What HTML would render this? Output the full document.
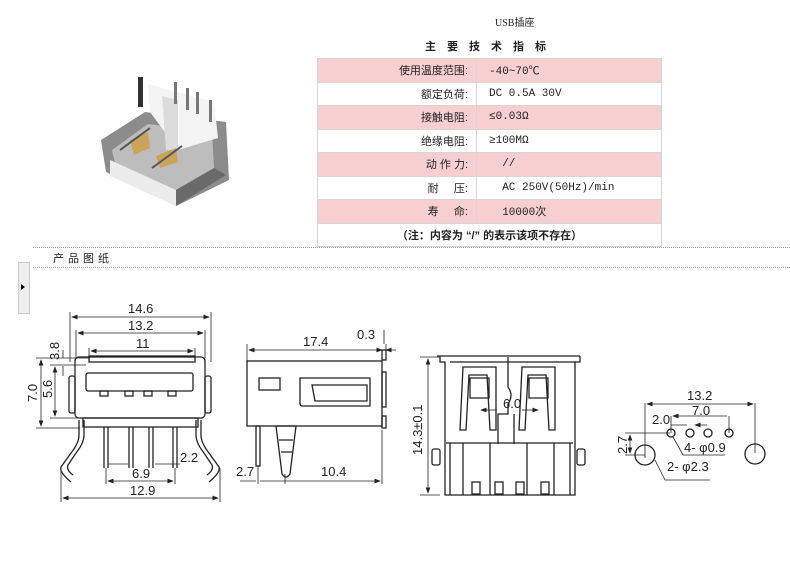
<!DOCTYPE html>
<html><head><meta charset="utf-8"><style>
body{margin:0;width:790px;height:570px;background:#fff;overflow:hidden;position:relative;font-family:"Liberation Sans","Noto Sans CJK SC",sans-serif}
.t{position:absolute;font-size:11px;color:#222}
table{position:absolute;left:317px;top:58px;width:345px;border-collapse:collapse;font-size:11px;font-family:"Liberation Mono","Noto Sans CJK SC",monospace;color:#222}
td{height:22.5px;padding:0;border:1px solid #d6d6d6}
tr.p td{background:#f7cfd0}
td.l{text-align:right;width:150px;padding-right:8px;font-family:"Liberation Sans","Noto Sans CJK SC",sans-serif}
td.r{padding-left:12px}
.dot{position:absolute;left:33px;width:757px;border-top:1px dotted #999}
</style></head><body>
<div class="t" style="left:495px;top:14px;font-size:10px;font-family:'Liberation Serif','Noto Sans CJK SC',serif">USB插座</div>
<div class="t" style="left:425px;top:38px;letter-spacing:11px;font-weight:bold">主要技术指标</div>
<table>
<tr class="p"><td class="l">使用温度范围:</td><td class="r">-40~70℃</td></tr>
<tr><td class="l">额定负荷:</td><td class="r">DC 0.5A 30V</td></tr>
<tr class="p"><td class="l">接触电阻:</td><td class="r">≤0.03Ω</td></tr>
<tr><td class="l">绝缘电阻:</td><td class="r">≥100MΩ</td></tr>
<tr class="p"><td class="l">动 作 力:</td><td class="r">&nbsp;&nbsp;//</td></tr>
<tr><td class="l">耐 &nbsp; &nbsp; 压:</td><td class="r">&nbsp;&nbsp;AC 250V(50Hz)/min</td></tr>
<tr class="p"><td class="l">寿 &nbsp; &nbsp; 命:</td><td class="r">&nbsp;&nbsp;10000次</td></tr>
<tr><td colspan="2" style="text-align:center;font-family:'Liberation Sans','Noto Sans CJK SC',sans-serif;font-weight:bold">（注：内容为 “/” 的表示该项不存在）</td></tr>
</table>
<div class="dot" style="top:247px"></div>
<div class="dot" style="top:267px"></div>
<div class="t" style="left:53px;top:250px;letter-spacing:4px">产品图纸</div>
<div style="position:absolute;left:18px;top:262px;width:10px;height:50px;background:#eee;border:1px solid #ccc"></div>
<div style="position:absolute;left:21px;top:284px;border-left:4px solid #000;border-top:3px solid transparent;border-bottom:3px solid transparent"></div>
<svg width="790" height="570" style="position:absolute;left:0;top:0" font-family="Liberation Sans,sans-serif" fill="none" stroke="#222">
<defs><marker id="a" markerWidth="8" markerHeight="6" refX="7" refY="3" orient="auto-start-reverse"><path d="M0,0L8,3L0,6z" fill="#222" stroke="none"/></marker></defs>
<!-- photo -->
<g stroke="none">
<polygon points="101,140 145,112 226,122 229,180 176,206 106,172" fill="#8c8c8c"/>
<polygon points="112,150 148,124 212,132 214,168 176,190 116,168" fill="#bdbdbd"/>
<polygon points="110,160 176,190 176,206 110,176" fill="#ececec"/>
<polygon points="176,190 214,168 226,175 176,206" fill="#6a6a6a"/>
<polygon points="148,84 214,102 218,138 178,150 150,112" fill="#f4f4f4"/>
<polygon points="162,96 178,100 178,150 166,150" fill="#dcdcdc"/>
<rect x="138" y="77" width="5" height="30" fill="#333"/>
<rect x="174" y="82" width="3" height="22" fill="#777"/><rect x="186" y="88" width="3" height="22" fill="#777"/><rect x="196" y="92" width="3" height="22" fill="#777"/><rect x="209" y="100" width="3" height="22" fill="#777"/>
<polygon points="130,140 148,132 150,148 134,155" fill="#caa45a"/>
<polygon points="156,156 176,148 178,162 160,168" fill="#caa45a"/>
<path d="M120,150l30-22M152,168l30-22" stroke="#555" stroke-width="2"/>
</g>
<g stroke-width="1.3">
<!-- front view -->
<rect x="75" y="357" width="130" height="61" rx="4"/>
<rect x="89" y="356" width="106" height="6"/>
<rect x="86" y="373" width="107" height="18" rx="2"/>
<rect x="100" y="391" width="8" height="5"/><rect x="125" y="391" width="8" height="5"/><rect x="144" y="391" width="8" height="5"/><rect x="168" y="391" width="8" height="5"/>
<rect x="69" y="376" width="6" height="37" rx="2"/><rect x="205" y="376" width="6" height="37" rx="2"/>
<rect x="83" y="418" width="115" height="9"/>
<path d="M104,427v41M108,427v41M129,427v41M133,427v41M149,427v41M153,427v41M173,427v41M177,427v41"/>
<path d="M79,420v15q0,8-8,18l-10,14q-2,5 10,15M84,420v15q0,8-8,18l-8,12q-2,5 5,10"/>
<path d="M201,420v15q0,8 8,18l10,14q2,5-10,15M196,420v15q0,8 8,18l8,12q2,5-5,10"/>
</g>
<g stroke-width="0.8">
<path d="M70,312v50M211,312v50M76,330v28M205,330v28M89,348v10M195,348v10" />
<path d="M72,317H209" marker-start="url(#a)" marker-end="url(#a)"/>
<path d="M78,333H203" marker-start="url(#a)" marker-end="url(#a)"/>
<path d="M91,351H193" marker-start="url(#a)" marker-end="url(#a)"/>
<path d="M36,358H90M36,428H80M50,365H86M50,418H80"/>
<path d="M41,360V426" marker-start="url(#a)" marker-end="url(#a)"/>
<path d="M55,367V416" marker-start="url(#a)" marker-end="url(#a)"/>
<path d="M63,350v8M63,366v10"/>
<path d="M106,468v16M175,468v16M220,468v34M61,468v34"/>
<path d="M108,481H173" marker-start="url(#a)" marker-end="url(#a)"/>
<path d="M63,498H218" marker-start="url(#a)" marker-end="url(#a)"/>
<path d="M108,464H128M155,464H180" />
</g>
<g fill="#222" stroke="none" font-size="13">
<text x="128" y="313">14.6</text><text x="128" y="330">13.2</text><text x="136" y="348">11</text>
<text x="132" y="478">6.9</text><text x="130" y="495">12.9</text><text x="180" y="462">2.2</text>
<text transform="translate(37,402) rotate(-90)">7.0</text>
<text transform="translate(52,398) rotate(-90)">5.6</text>
<text transform="translate(59,360) rotate(-90)">3.8</text>
</g>
<!-- side view -->
<g stroke-width="1.3">
<rect x="247" y="361" width="135" height="65"/>
<rect x="259" y="378" width="21" height="12"/>
<path d="M300,378h70v28h-68q-2,0-2-3z M312,385h55v16h-52z"/>
<rect x="382" y="350" width="4" height="10"/><rect x="382" y="372" width="4" height="35"/><rect x="382" y="416" width="4" height="12"/>
<rect x="256" y="426" width="4" height="40"/>
<path d="M276,426l6,48q4,6 8,0l6-48z M279,440h14M281,452h11"/>
</g>
<g stroke-width="0.8">
<path d="M247,344v17M386,344v6M384,330v14"/>
<path d="M249,350H382" marker-start="url(#a)" marker-end="url(#a)"/>
<path d="M376,350h6M396,350h-10" marker-end="url(#a)"/>
<path d="M258,466v18M285,474v10M382,430v54"/>
<path d="M240,481H256M260,481h25M285,481H380" marker-end="url(#a)"/>
</g>
<g fill="#222" stroke="none" font-size="13">
<text x="303" y="346">17.4</text><text x="357" y="339">0.3</text>
<text x="236" y="476">2.7</text><text x="321" y="476">10.4</text>
</g>
<!-- back view -->
<g stroke-width="1.3">
<path d="M437,356h143M440,356v6h5v133h130v-133h5v-6"/>
<path d="M450,362h126"/>
<path d="M463,367h33v63h-6l-3-55h-18l-3,55h-6z M470,378h19v20h-19z"/>
<path d="M522,367h33v63h-6l-3-55h-18l-3,55h-6z M529,378h19v20h-19z"/>
<path d="M508,357v30q6,8 0,17v10h-10v30M514,414v30"/>
<path d="M446,443h127M450,443v52M570,443v52M463,443v52M490,443v52M527,443v52M554,443v52"/>
<rect x="472" y="482" width="8" height="12"/><rect x="495" y="482" width="8" height="12"/><rect x="516" y="482" width="8" height="12"/><rect x="541" y="482" width="8" height="12"/>
<rect x="432" y="449" width="8" height="16" rx="2"/><rect x="577" y="449" width="8" height="16" rx="2"/>
</g>
<g stroke-width="0.8">
<path d="M420,357h20M420,495h20"/>
<path d="M428,359V493" marker-start="url(#a)" marker-end="url(#a)"/>
<path d="M481,410H497" marker-start="url(#a)"/><path d="M522,410H538" marker-end="url(#a)"/>
</g>
<g fill="#222" stroke="none" font-size="13">
<text transform="translate(422,455) rotate(-90)">14.3±0.1</text>
<text x="503" y="408">6.0</text>
</g>
<!-- footprint -->
<g stroke-width="1.3">
<circle cx="671" cy="433" r="4"/><circle cx="690" cy="433" r="4"/><circle cx="708" cy="433" r="4"/><circle cx="729" cy="433" r="4"/>
<circle cx="645" cy="455" r="10"/><circle cx="755" cy="454" r="10"/>
</g>
<g stroke-width="0.8">
<path d="M645,403v55M755,403v50M671,416v17M729,416v17"/>
<path d="M647,404H753" marker-start="url(#a)" marker-end="url(#a)"/>
<path d="M673,416H727" marker-start="url(#a)"/>
<path d="M671,425h16M707,425h-12" marker-end="url(#a)"/>
<path d="M625,433H670M625,455H645"/>
<path d="M630,435V453" marker-start="url(#a)" marker-end="url(#a)"/>
<path d="M673,437l10,18h42M655,460l10,20h45"/>
</g>
<g fill="#222" stroke="none" font-size="13">
<text x="687" y="400">13.2</text><text x="692" y="415">7.0</text><text x="652" y="424">2.0</text>
<text x="684" y="452">4- φ0.9</text><text x="667" y="471">2- φ2.3</text>
<text transform="translate(627,454) rotate(-90)">2.7</text>
</g>
</svg>
</body></html>
